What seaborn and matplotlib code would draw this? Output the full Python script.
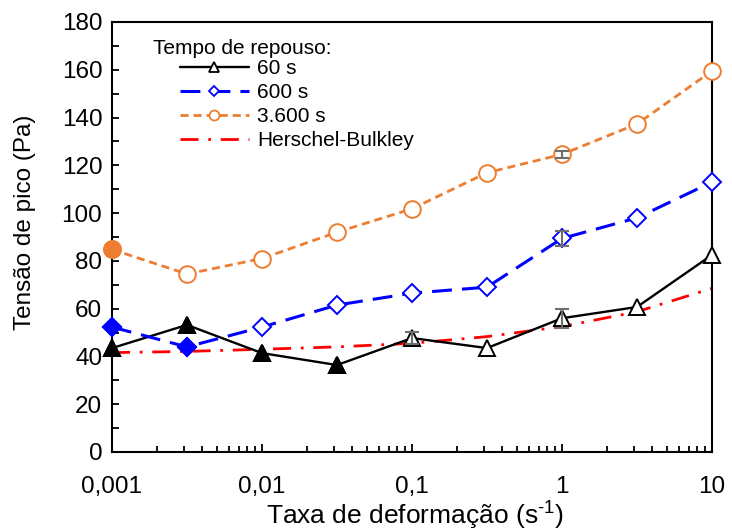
import numpy as np
import pandas as pd
import matplotlib
matplotlib.use("Agg")
import matplotlib.pyplot as plt
import seaborn as sns
from matplotlib.lines import Line2D
from matplotlib.ticker import FixedLocator, LogLocator, NullFormatter

# ---- data ----
rate = [0.001, 0.00316, 0.01, 0.0316, 0.1, 0.316, 1.0, 3.16, 10.0]
t60 = [43.5, 53.2, 41.4, 36.4, 47.7, 43.5, 56.0, 60.7, 82.5]
t600 = [52.3, 44.0, 52.3, 61.5, 66.5, 69.0, 89.4, 98.0, 113.0]
t3600 = [84.8, 74.5, 81.0, 92.0, 101.8, 116.9, 124.6, 137.3, 159.5]
hb = [41.6, 42.1, 43.0, 44.0, 45.5, 48.3, 52.5, 58.7, 68.5]
n_filled = {"60 s": 4, "600 s": 2, "3.600 s": 1}
err_x = [0.1, 1.0, 1.0, 1.0]
err_y = [47.7, 56.0, 89.4, 124.6]
err_e = [2.5, 4.0, 3.0, 1.5]
xticks = [0.001, 0.01, 0.1, 1, 10]
xticklabels = ["0,001", "0,01", "0,1", "1", "10"]
yticks = list(range(0, 181, 20))
legend_title = "Tempo de repouso:"
xlabel = "Taxa de deformação (s$^{\\text{-1}}$)"
ylabel = "Tensão de pico (Pa)"

sns.set_style("white")
plt.rcParams['font.family'] = ['Liberation Sans', 'DejaVu Sans']
plt.rcParams['mathtext.fontset'] = 'custom'
plt.rcParams['mathtext.rm'] = 'Liberation Sans'
plt.rcParams['mathtext.it'] = 'Liberation Sans'
for key in ['text.color', 'axes.labelcolor', 'xtick.color', 'ytick.color',
            'xtick.labelcolor', 'ytick.labelcolor']:
    plt.rcParams[key] = 'black'

fig = plt.figure(figsize=(7.32, 5.31), dpi=100)
ax = fig.add_axes([112/732, 1 - 452/531, 600/732, 430/531])
ax.set_xscale('log')

styles = [
    ("60 s", t60, dict(color='black', lw=1.7, linestyle='-', marker='^', ms=12)),
    ("600 s", t600, dict(color='#0000FF', lw=2.2, linestyle=(0, (6.5, 3.3)), marker='D', ms=9)),
    ("3.600 s", t3600, dict(color='#ED7D31', lw=2.0, linestyle=(0, (2.9, 1.8)), marker='o', ms=12)),
]

# Herschel-Bulkley
sns.lineplot(x=rate, y=hb, ax=ax, color='#FF0000', lw=2.0,
             linestyle=(0, (6.5, 3.5, 1, 3.5)), zorder=2)

for name, vals, st in styles:
    c = st['color']
    sns.lineplot(x=rate, y=vals, ax=ax, color=c, lw=st['lw'], linestyle=st['linestyle'],
                 marker=st['marker'], ms=st['ms'], mfc='white', mec=c, mew=1.4, zorder=3,
                 clip_on=False)
    k = n_filled[name]
    sns.lineplot(x=rate[:k], y=vals[:k], ax=ax, color=c, linestyle='none',
                 marker=st['marker'], ms=st['ms'], mfc=c, mec=c, mew=1.4, zorder=4,
                 clip_on=False)

ax.errorbar(err_x, err_y, yerr=err_e, fmt='none', ecolor='#6e6e6e', elinewidth=1.5,
            capsize=5, capthick=1.5, zorder=5)

ax.set_xlim(0.001, 10)
ax.set_ylim(0, 180)
ax.set_xticks(xticks)
ax.set_xticklabels(xticklabels)
ax.xaxis.set_minor_locator(LogLocator(base=10, subs=np.arange(2, 10)))
ax.xaxis.set_minor_formatter(NullFormatter())
ax.set_yticks(yticks)
ax.yaxis.set_minor_locator(FixedLocator(list(range(10, 180, 20))))

ax.tick_params(which='both', bottom=True, left=True, top=False, right=False)
ax.tick_params(axis='x', which='major', direction='in', length=6, width=1.3,
               labelsize=17.5, color='black', labelcolor='black', pad=17)
ax.tick_params(axis='y', which='major', direction='in', length=5, width=1.3,
               labelsize=17.5, color='black', labelcolor='black', pad=7)
ax.tick_params(axis='y', which='minor', direction='in', length=5, width=1.3, color='black')
ax.tick_params(axis='x', which='minor', direction='in', length=4, width=1.3, color='black')
for s in ax.spines.values():
    s.set_visible(True)
    s.set_color('black')
    s.set_linewidth(1.5)

ax.set_xlabel(xlabel, fontsize=19, va='center', color='black')
ax.set_ylabel(ylabel, fontsize=17.5, va='center', color='black')
ax.xaxis.set_label_coords(0.505, (452 - 516) / 430)
ax.yaxis.set_label_coords((25 - 112) / 600, (452 - 222) / 430)

handles = []
for name, vals, st in styles:
    c = st['color']
    handles.append(Line2D([], [], color=c, lw=st['lw'], linestyle=st['linestyle'],
                          marker=st['marker'], ms=st['ms'] * 0.6, mfc='white', mec=c, mew=1.3))
handles.append(Line2D([], [], color='#FF0000', lw=2.0, linestyle=(0, (6.5, 3.5, 1, 3.5))))
labels = ["60 s", "600 s", "3.600 s", "Herschel-Bulkley"]

fig.text(153/732, 1 - 48/531, legend_title, fontsize=15, ha='left', va='center', color='black')
leg = ax.legend(handles, labels, loc='upper left',
                bbox_to_anchor=((180 - 112)/600, (452 - 59)/430),
                frameon=False, fontsize=15, handlelength=3.3, handletextpad=0.4,
                labelspacing=0.24, borderpad=0, borderaxespad=0, labelcolor='black')

fig.savefig("out.png", dpi=100)
